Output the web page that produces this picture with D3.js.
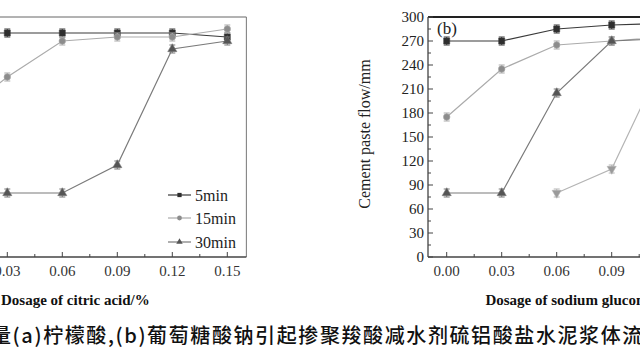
<!DOCTYPE html>
<html><head><meta charset="utf-8">
<script src="https://cdn.jsdelivr.net/npm/d3@7"></script>
<style>
html,body{margin:0;padding:0;background:#fff;}
svg{display:block;}
</style>
</head><body>
<svg id="c" width="640" height="360"></svg>
<script>
// ---- data ----
const dosages = [0, 0.03, 0.06, 0.09, 0.12, 0.15];
const xTicks = [0, 0.03, 0.06, 0.09, 0.12, 0.15];
const xTickLabels = ["0.00", "0.03", "0.06", "0.09", "0.12", "0.15"];
const yTicks = [0, 30, 60, 90, 120, 150, 180, 210, 240, 270, 300];
const seriesNames = ["5min", "15min", "30min", "60min"];
// (a) citric acid
const citric5 = [280, 280, 280, 280, 280, 275];
const citric15 = [170, 225, 270, 275, 275, 285];
const citric30 = [80, 80, 80, 115, 260, 270];
// (b) sodium gluconate
const gluc5 = [270, 270, 285, 290, 292, 293];
const gluc15 = [175, 235, 265, 270, 275, 278];
const gluc30 = [80, 80, 205, 270, 273, 276];
const gluc60 = [null, null, 80, 110, 255, 270];
const errBar = [5, 5, 5, 5, 5, 5];
const xLabelA = "Dosage of citric acid/%";
const xLabelB = "Dosage of sodium gluconate/%";
const yLabel = "Cement paste flow/mm";
const panelB = "(b)";
const caption = "量(a)柠檬酸,(b)葡萄糖酸钠引起掺聚羧酸减水剂硫铝酸盐水泥浆体流";

const W = 640;
const svg = d3.select("#c");
const serif = "Liberation Serif";
const y = d3.scaleLinear().domain([0, 300]).range([257, 17]);

const styles = {
  "5min":  {line: "#3a3a3a", fill: "#2e2e2e", sym: d3.symbolSquare, size: 36},
  "15min": {line: "#ababab", fill: "#8c8c8c", sym: d3.symbolCircle, size: 34},
  "30min": {line: "#7a7a7a", fill: "#555", sym: d3.symbolTriangle, size: 36},
  "60min": {line: "#b4b4b4", fill: "#9a9a9a", sym: d3.symbolTriangle, size: 36, rot: 180}
};

function visible(x) { return x > -20 && x < W + 20; }

function drawPanel(x, frameL, frameR, series, opts) {
  const g = svg.append("g");
  // frame
  g.append("line").attr("x1", frameL).attr("x2", frameR).attr("y1", y(300)).attr("y2", y(300))
    .attr("stroke", opts.topColor).attr("stroke-width", opts.topWidth);
  g.append("line").attr("x1", frameR).attr("x2", frameR).attr("y1", y(300)).attr("y2", y(0))
    .attr("stroke", "#777").attr("stroke-width", 1);
  g.append("line").attr("x1", frameL).attr("x2", frameL).attr("y1", y(300)).attr("y2", y(0))
    .attr("stroke", "#444").attr("stroke-width", 1.3);
  g.append("line").attr("x1", frameL).attr("x2", frameR).attr("y1", y(0)).attr("y2", y(0))
    .attr("stroke", "#444").attr("stroke-width", 1.3);
  // x ticks (inward)
  xTicks.forEach((t, i) => {
    g.append("line").attr("x1", x(t)).attr("x2", x(t)).attr("y1", y(0)).attr("y2", y(0) - 5)
      .attr("stroke", "#444");
    if (t < 0.15) g.append("line").attr("x1", x(t + 0.015)).attr("x2", x(t + 0.015)).attr("y1", y(0)).attr("y2", y(0) - 3)
      .attr("stroke", "#444");
    if (visible(x(t))) g.append("text").attr("x", x(t)).attr("y", 276).attr("text-anchor", "middle")
      .attr("font-family", serif).attr("font-size", 15).attr("fill", "#333").text(xTickLabels[i]);
  });
  // y ticks (inward)
  yTicks.forEach(t => {
    g.append("line").attr("x1", frameL).attr("x2", frameL + 5).attr("y1", y(t)).attr("y2", y(t))
      .attr("stroke", "#444");
    if (t < 300) g.append("line").attr("x1", frameL).attr("x2", frameL + 3).attr("y1", y(t + 15)).attr("y2", y(t + 15))
      .attr("stroke", "#444");
    if (visible(frameL)) g.append("text").attr("x", frameL - 4).attr("y", y(t) + 5).attr("text-anchor", "end")
      .attr("font-family", serif).attr("font-size", 15).attr("fill", "#222").text(t);
  });
  // series
  series.forEach(s => {
    const st = styles[s.name];
    const pts = dosages.map((d, i) => ({d, v: s.values[i], e: errBar[i]})).filter(p => p.v !== null);
    g.append("path").datum(pts)
      .attr("d", d3.line().x(p => x(p.d)).y(p => y(p.v)))
      .attr("fill", "none").attr("stroke", st.line).attr("stroke-width", 1.2);
    pts.forEach(p => {
      const cx = x(p.d);
      g.append("line").attr("x1", cx).attr("x2", cx).attr("y1", y(p.v - p.e)).attr("y2", y(p.v + p.e))
        .attr("stroke", st.line).attr("stroke-width", 1);
      [p.v - p.e, p.v + p.e].forEach(v => g.append("line").attr("x1", cx - 3).attr("x2", cx + 3)
        .attr("y1", y(v)).attr("y2", y(v)).attr("stroke", st.line).attr("stroke-width", 1));
      g.append("path").attr("d", d3.symbol().type(st.sym).size(st.size)())
        .attr("transform", `translate(${cx},${y(p.v)}) rotate(${st.rot || 0})`)
        .attr("fill", st.fill).attr("stroke", st.line).attr("stroke-width", 0.6);
    });
  });
  return g;
}

// panel (a)
const xA = d3.scaleLinear().domain([0, 0.15]).range([-47.7, 227.3]);
drawPanel(xA, xA(-0.0102), xA(0.1604), [
  {name: "5min", values: citric5},
  {name: "15min", values: citric15},
  {name: "30min", values: citric30}
], {topColor: "#666", topWidth: 1});

// legend (a)
[["5min", 195], ["15min", 218], ["30min", 242]].forEach(([n, ly]) => {
  const st = styles[n];
  svg.append("line").attr("x1", 168).attr("x2", 191).attr("y1", ly).attr("y2", ly)
    .attr("stroke", st.line).attr("stroke-width", 1.2);
  svg.append("path").attr("d", d3.symbol().type(st.sym).size(18)())
    .attr("transform", `translate(179.5,${ly})`).attr("fill", st.fill);
  svg.append("text").attr("x", 195).attr("y", ly + 5.5).attr("font-family", serif)
    .attr("font-size", 16).attr("fill", "#222").text(n);
});

// panel (b)
const xB = d3.scaleLinear().domain([0, 0.15]).range([446.7, 721.7]);
drawPanel(xB, 428, 740, [
  {name: "5min", values: gluc5},
  {name: "15min", values: gluc15},
  {name: "30min", values: gluc30},
  {name: "60min", values: gluc60}
], {topColor: "#222", topWidth: 2.2});

svg.append("text").attr("x", 437).attr("y", 34).attr("font-family", serif)
  .attr("font-size", 17).attr("fill", "#222").text(panelB);

svg.append("text").attr("transform", "translate(370,134) rotate(-90)").attr("text-anchor", "middle")
  .attr("font-family", serif).attr("font-size", 16).attr("fill", "#222").text(yLabel);

// axis titles
svg.append("text").attr("x", 1).attr("y", 305).attr("font-family", serif).attr("font-weight", "bold")
  .attr("font-size", 15).attr("fill", "#111").text(xLabelA);
svg.append("text").attr("x", 584).attr("y", 305).attr("text-anchor", "middle").attr("font-family", serif)
  .attr("font-weight", "bold").attr("font-size", 15).attr("fill", "#111").text(xLabelB);

// caption
svg.append("text").attr("x", -9).attr("y", 343).attr("font-family", "Noto Sans CJK SC")
  .attr("font-size", 20).attr("letter-spacing", 1.6).attr("font-weight", 500).attr("fill", "#111").text(caption);
</script>
</body></html>
